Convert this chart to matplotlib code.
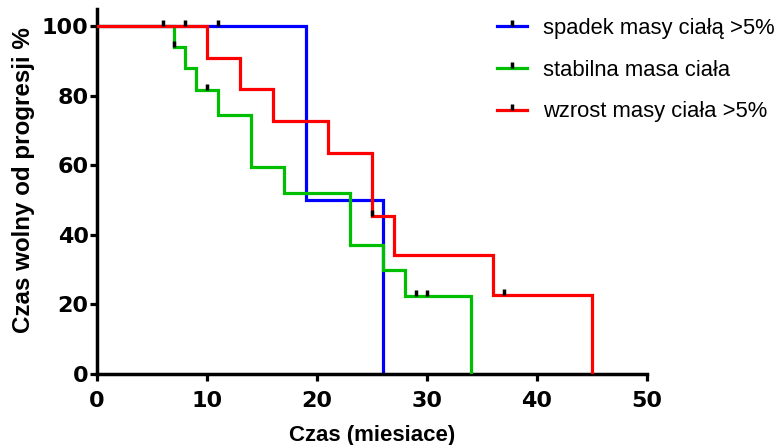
import matplotlib
matplotlib.use("Agg")
import matplotlib.pyplot as plt
from matplotlib.lines import Line2D
from matplotlib.path import Path

# Kaplan-Meier curves (time in months, survival in %)
blue_t = [0, 19, 26]
blue_s = [100, 50, 0]
blue_cens_t = [6, 8, 11]
blue_cens_s = [100, 100, 100]

green_t = [0, 7, 8, 9, 11, 14, 17, 23, 26, 28, 34]
green_s = [100, 94.1, 87.8, 81.6, 74.5, 59.6, 52.1, 37.2, 29.8, 22.3, 0]
green_cens_t = [7, 10, 29, 30]
green_cens_s = [94.1, 81.6, 22.3, 22.3]

red_t = [0, 10, 13, 16, 21, 25, 27, 36, 45]
red_s = [100, 90.9, 81.8, 72.7, 63.6, 45.5, 34.1, 22.7, 0]
red_cens_t = [25, 37]
red_cens_s = [45.5, 22.7]

labels = ["spadek masy ciałą >5%", "stabilna masa ciała", "wzrost masy ciała >5%"]
colors = ["#0000FF", "#00BF00", "#FF0000"]

xticks = [0, 10, 20, 30, 40, 50]
yticks = [0, 20, 40, 60, 80, 100]

# small vertical tick pointing up, used as censor mark
tick = Path([(0, 0), (0, 1)], [Path.MOVETO, Path.LINETO])

fig = plt.figure(figsize=(7.83, 4.45), dpi=100)
ax = fig.add_axes([0.1239, 0.1596, 0.7024, 0.8211])

series = [
    (blue_t, blue_s, blue_cens_t, blue_cens_s),
    (green_t, green_s, green_cens_t, green_cens_s),
    (red_t, red_s, red_cens_t, red_cens_s),
]
for i, (t, s, ct, cs) in enumerate(series):
    ax.step(t, s, where="post", color=colors[i], lw=2.3, zorder=2 + i,
            solid_joinstyle="miter")
for i, (t, s, ct, cs) in enumerate(series):
    ax.plot(ct, cs, ls="none", marker=tick, markersize=9, mew=2.5,
            mec="black", zorder=6)

ax.set_xlim(0, 50)
ax.set_ylim(0, 105)
ax.set_xticks(xticks)
ax.set_yticks(yticks)
for side in ["top", "right"]:
    ax.spines[side].set_visible(False)
for side in ["left", "bottom"]:
    ax.spines[side].set_linewidth(2.5)

ax.tick_params(axis="both", direction="out", length=5, width=2.3)
ax.tick_params(axis="y", pad=1)
ax.tick_params(axis="x", pad=7)
for lab in ax.get_xticklabels() + ax.get_yticklabels():
    lab.set_fontfamily("DejaVu Sans")
    lab.set_fontweight("bold")
    lab.set_fontsize(16)

ax.set_xlabel("Czas (miesiace)", fontfamily="Liberation Sans",
              fontweight="bold", fontsize=16, labelpad=10)
ax.set_ylabel("Czas wolny od progresji %", fontfamily="Liberation Sans",
              fontweight="bold", fontsize=17.4)
ax.yaxis.set_label_coords(-0.1125, 0.531)

handles = [Line2D([0], [0], color=c, lw=2.3, marker=tick, markersize=9,
                  mew=2.5, mec="black") for c in colors]
fig.legend(handles, labels, loc="upper left", bbox_to_anchor=(0.6347, 0.96),
           frameon=False, borderpad=0, borderaxespad=0, handlelength=1.38,
           handletextpad=0.7, labelspacing=0.95, numpoints=1,
           prop={"family": "Liberation Sans", "size": 15.8})

fig.savefig("out.png", dpi=100)
